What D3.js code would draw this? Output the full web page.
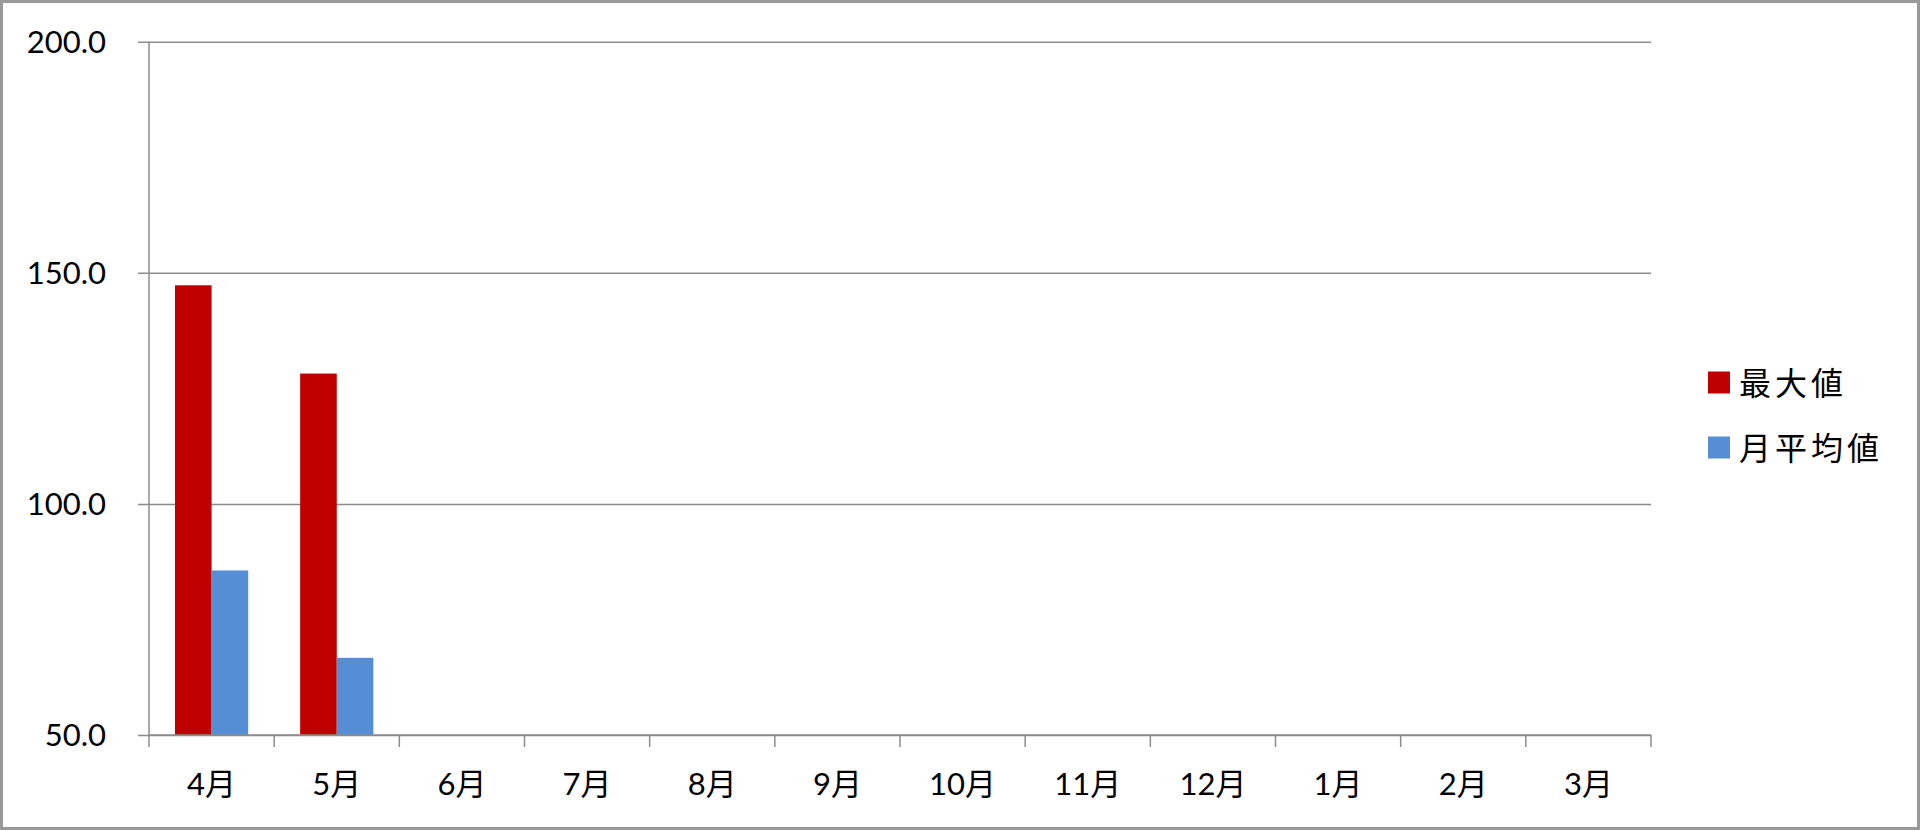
<!DOCTYPE html>
<html>
<head>
<meta charset="utf-8">
<script src="https://cdn.jsdelivr.net/npm/d3@7"></script>
<style>
  body { margin: 0; background: #fff; }
  svg { display: block; font-family: Lato, "Noto Sans CJK JP", sans-serif; }
</style>
</head>
<body>
<svg width="1920" height="830"></svg>
<script>
// Data
const months = ["4月", "5月", "6月", "7月", "8月", "9月", "10月", "11月", "12月", "1月", "2月", "3月"];
const seriesNames = ["最大値", "月平均値"];
const maxValues = [147.3, 128.2, null, null, null, null, null, null, null, null, null, null];
const avgValues = [85.6, 66.7, null, null, null, null, null, null, null, null, null, null];
const yTicks = [50, 100, 150, 200];
const colors = ["#c00000", "#558ed5"];

const svg = d3.select("svg"),
    width = +svg.attr("width"),
    height = +svg.attr("height");

const plot = { left: 149, right: 1651, top: 41.7, bottom: 735 };
const gray = "#8c8c8c";

// outer border
svg.append("rect")
    .attr("x", 1.5).attr("y", 1.5)
    .attr("width", width - 3).attr("height", height - 3)
    .attr("fill", "#fff")
    .attr("stroke", "#999")
    .attr("stroke-width", 3);

// scales
const x0 = d3.scaleBand()
    .domain(months)
    .range([plot.left, plot.right]);

const x1 = d3.scaleBand()
    .domain(seriesNames)
    .range([0, x0.bandwidth()])
    .paddingOuter(0.71);

const y = d3.scaleLinear()
    .domain([50, 200])
    .range([plot.bottom, plot.top]);

// gridlines + y ticks
const yAxis = svg.append("g")
    .attr("transform", `translate(${plot.left},0)`)
    .call(d3.axisLeft(y)
        .tickValues(yTicks)
        .tickSize(-(plot.right - plot.left))
        .tickFormat(d3.format(".1f")));
yAxis.select(".domain").remove();
yAxis.selectAll(".tick line")
    .attr("x1", -11)
    .attr("stroke", gray)
    .attr("stroke-width", 1.5);
yAxis.selectAll(".tick text")
    .attr("x", -43)
    .attr("dy", null)
    .attr("y", 10.5)
    .attr("fill", "#000")
    .style("font-size", "31px")
    .style("font-family", "Lato, 'Noto Sans CJK JP', sans-serif");

// y axis line
svg.append("line")
    .attr("x1", plot.left).attr("x2", plot.left)
    .attr("y1", plot.top).attr("y2", plot.bottom)
    .attr("stroke", gray)
    .attr("stroke-width", 1.5);

// bars
const rows = months.map((m, i) => ({ month: m, values: [maxValues[i], avgValues[i]] }));

svg.append("g")
    .selectAll("g")
    .data(rows)
    .join("g")
    .attr("transform", d => `translate(${x0(d.month)},0)`)
    .selectAll("rect")
    .data(d => d.values.map((v, j) => ({ key: seriesNames[j], value: v, color: colors[j] })).filter(e => e.value != null))
    .join("rect")
    .attr("x", d => x1(d.key))
    .attr("width", x1.bandwidth())
    .attr("y", d => y(d.value))
    .attr("height", d => y(50) - y(d.value))
    .attr("fill", d => d.color);

// x axis
const xAxis = svg.append("g")
    .attr("transform", `translate(0,${plot.bottom})`)
    .call(d3.axisBottom(x0).tickSize(0).tickPadding(0));
xAxis.select(".domain")
    .attr("d", `M${plot.left},0H${plot.right}`)
    .attr("stroke", gray)
    .attr("stroke-width", 1.5);
xAxis.selectAll(".tick text")
    .attr("y", 60)
    .attr("dy", null)
    .attr("fill", "#000")
    .style("font-size", "31px")
    .style("font-family", "Lato, 'Noto Sans CJK JP', sans-serif");

// category boundary ticks
const bounds = months.map(m => x0(m)).concat([x0(months[months.length - 1]) + x0.bandwidth()]);
xAxis.selectAll(".bound")
    .data(bounds)
    .join("line")
    .attr("class", "bound")
    .attr("x1", d => d).attr("x2", d => d)
    .attr("y1", 0).attr("y2", 12)
    .attr("stroke", gray)
    .attr("stroke-width", 1.5);

// legend
const legend = svg.append("g")
    .selectAll("g")
    .data(seriesNames)
    .join("g")
    .attr("transform", (d, i) => `translate(1708,${371.5 + i * 65})`);
legend.append("rect")
    .attr("width", 22).attr("height", 22)
    .attr("fill", (d, i) => colors[i]);
legend.append("text")
    .attr("x", 31)
    .attr("y", 11)
    .attr("dominant-baseline", "central")
    .attr("fill", "#000")
    .style("font-size", "32px")
    .style("letter-spacing", "4px")
    .text(d => d);
</script>
</body>
</html>
